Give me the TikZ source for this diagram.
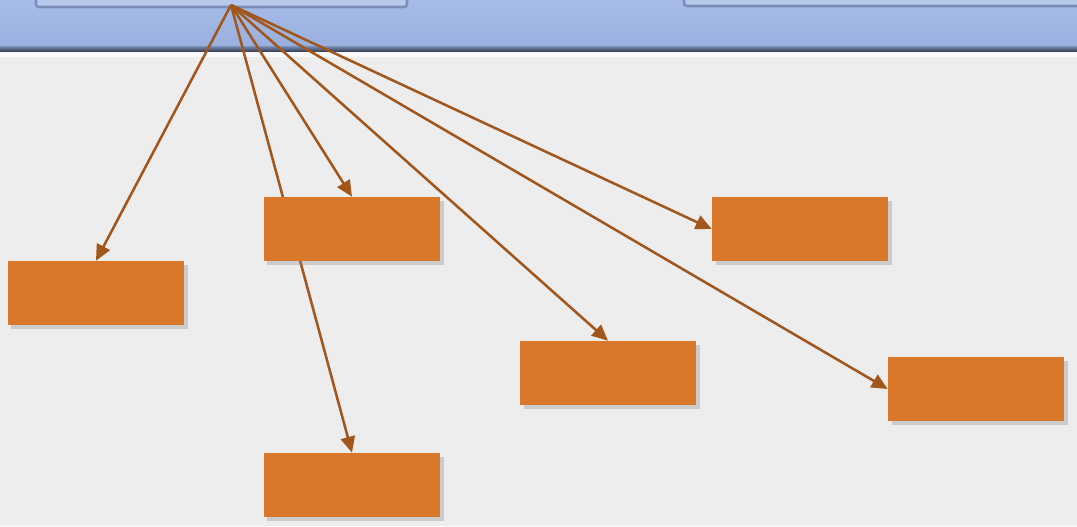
\documentclass[tikz,border=0pt]{standalone}
\usepackage{tikz}
\usetikzlibrary{arrows.meta,shadows}
\definecolor{bandtop}{HTML}{A7BCE6}
\definecolor{bandbot}{HTML}{99AFDE}
\definecolor{bandedge}{HTML}{7A8EB8}
\definecolor{boxorange}{HTML}{D9782A}
\definecolor{arrowbrown}{HTML}{A2561C}
\definecolor{paper}{HTML}{EDEDED}
\pgfdeclarelayer{paperlayer}
\pgfdeclarelayer{behind}
\pgfsetlayers{paperlayer,behind,main}
\tikzset{
	orangebox/.style={fill=boxorange, minimum width=4.4cm, minimum height=1.6cm, inner sep=0pt,
		drop shadow={shadow xshift=2.5pt, shadow yshift=-2.5pt, opacity=0.3}},
	pointer/.style={line width=1.8pt, color=arrowbrown, -{Triangle[length=4mm,width=3.6mm]}},
	tab/.style={line width=1.8pt, draw=bandedge, fill=bandtop!80!white, rounded corners=2pt}
}

\begin{document}
\begin{tikzpicture}[x=0.025cm, y=-0.025cm]
			%%%%% START %%%%%
			\useasboundingbox (0, 0) rectangle (1077, 526);
			
			\begin{pgfonlayer}{paperlayer}
			\fill[paper] (0, 0) rectangle (1077, 526);
			\shade[top color=bandtop, bottom color=bandbot] (0, 0) rectangle (1077, 48);
			\shade[top color=bandedge, bottom color=black!60!bandedge] (0, 46) rectangle (1077, 52);
			\fill[white!92!bandtop] (0, 52) rectangle (1077, 57);
			\draw[tab] (36, -10) rectangle (407, 7);
			\draw[tab] (684, -10) rectangle (1090, 6);
			\end{pgfonlayer}
			
			\coordinate (src) at (231, 5);
			
			\node[orangebox] (left) at (96, 293) {};
			\node[orangebox] (mid) at (352, 229) {};
			\node[orangebox] (right) at (800, 229) {};
			\node[orangebox] (centre) at (608, 373) {};
			\node[orangebox] (far) at (976, 389) {};
			\node[orangebox] (low) at (352, 485) {};
			
			\begin{pgfonlayer}{behind}
			\draw[pointer] (src) -- (left.north);
			\draw[pointer] (src) -- (mid.north);
			\draw[pointer] (src) -- (low.north);
			\draw[pointer] (src) -- (centre.north);
			\draw[pointer] (src) -- (right.west);
			\draw[pointer] (src) -- (far.west);
			\end{pgfonlayer}
			
			%%%%% END %%%%%
\end{tikzpicture}
\end{document}
